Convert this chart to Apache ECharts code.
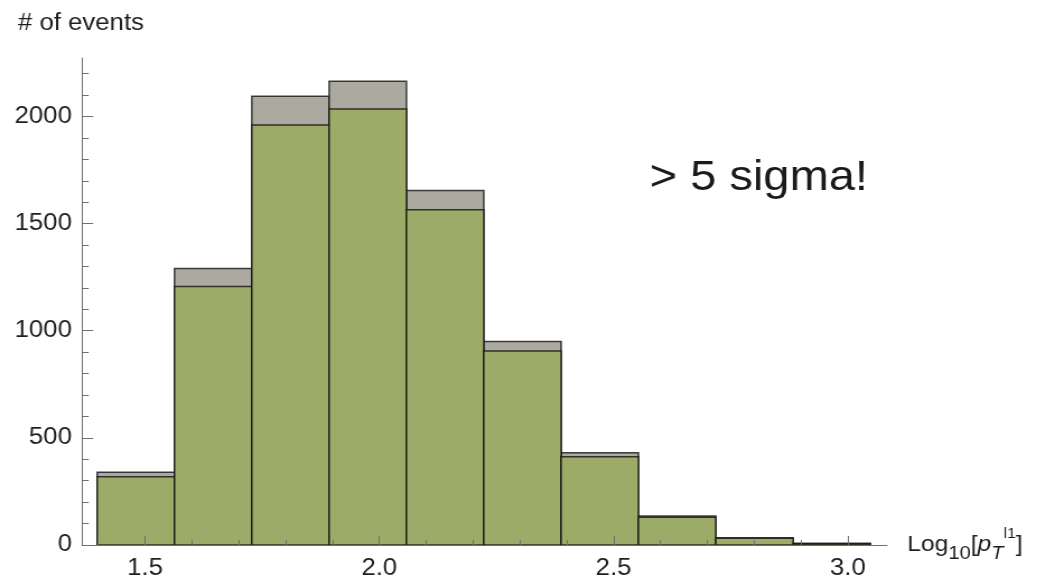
<!DOCTYPE html>
<html>
<head>
<meta charset="utf-8">
<script src="https://cdn.jsdelivr.net/npm/echarts@6/dist/echarts.min.js"></script>
<style>
  html, body { margin: 0; padding: 0; background: #fff; overflow: hidden; }
  /* the plot is laid out at 931px and widened to the full 1043px page */
  #chart { width: 931px; height: 584px; transform: scaleX(1.12); transform-origin: 0 0; }
</style>
</head>
<body>
<div id="chart"></div>
<script>
// Histogram of Log10[pT^l1]: bin edges and counts per bin
const binEdges = [1.398, 1.563, 1.728, 1.893, 2.058, 2.223, 2.388, 2.553, 2.718, 2.883, 3.048];
const totalCounts  = [340, 1290, 2095, 2165, 1655, 950, 430, 135, 34, 8];
const signalCounts = [318, 1206, 1960, 2035, 1565, 905, 412, 130, 31, 6];

// Axis ticks and labels
const xTickValues = [1.5, 2.0, 2.5, 3.0];
const xMinorTickValues = [1.4, 1.6, 1.7, 1.8, 1.9, 2.1, 2.2, 2.3, 2.4, 2.6, 2.7, 2.8, 2.9];
const yTickValues = [0, 500, 1000, 1500, 2000];
const yMinorTickValues = [100, 200, 300, 400, 600, 700, 800, 900, 1100, 1200, 1300, 1400,
                          1600, 1700, 1800, 1900, 2100, 2200];

const X_MIN = 1.3656, X_MAX = 3.0835;
const Y_MIN = 0, Y_MAX = 2273;

const FONT = '"Liberation Sans", Arial, sans-serif';
const AXIS_COLOR = '#6f6f6f';
const TEXT_COLOR = '#1e1e1e';

function histogramItem(fill) {
  return function (params, api) {
    const topLeft = api.coord([api.value(0), api.value(2)]);
    const bottomRight = api.coord([api.value(1), 0]);
    return {
      type: 'rect',
      shape: {
        x: topLeft[0],
        y: topLeft[1],
        width: bottomRight[0] - topLeft[0],
        height: bottomRight[1] - topLeft[1]
      },
      style: { fill: fill, stroke: 'rgba(15,15,15,0.78)', lineWidth: 1.5 }
    };
  };
}

function binData(counts) {
  return counts.map((v, i) => [binEdges[i], binEdges[i + 1], v]);
}

const chart = echarts.init(document.getElementById('chart'), null, { renderer: 'canvas' });

chart.setOption({
  animation: false,
  backgroundColor: '#ffffff',
  textStyle: { fontFamily: FONT },
  grid: { left: 73.2, right: 139, top: 58, bottom: 39, containLabel: false },
  xAxis: [
    {
      type: 'value', position: 'bottom', min: X_MIN, max: X_MAX, z: 10,
      axisLine: { onZero: false, lineStyle: { color: AXIS_COLOR, width: 1 } },
      axisTick: { inside: true, length: 9, customValues: xTickValues,
                  lineStyle: { color: AXIS_COLOR, width: 1 } },
      axisLabel: { customValues: xTickValues, margin: 12, fontSize: 23,
                   color: TEXT_COLOR, fontFamily: FONT,
                   formatter: v => v.toFixed(1) },
      splitLine: { show: false },
      name: '{a|Log}{sub|10}{a|[}{it|p}{itsub|T}{sup|l1}{a|]}',
      nameLocation: 'end',
      nameGap: 18,
      nameTextStyle: {
        fontFamily: FONT, color: TEXT_COLOR, align: 'left',
        rich: {
          a:     { fontSize: 22, lineHeight: 36, verticalAlign: 'middle', color: TEXT_COLOR, fontFamily: FONT },
          sub:   { fontSize: 18, lineHeight: 22, verticalAlign: 'bottom', color: TEXT_COLOR, fontFamily: FONT },
          it:    { fontSize: 22, lineHeight: 36, verticalAlign: 'middle', fontStyle: 'italic', color: TEXT_COLOR, fontFamily: FONT },
          itsub: { fontSize: 18, lineHeight: 22, verticalAlign: 'bottom', fontStyle: 'italic', color: TEXT_COLOR, fontFamily: FONT },
          sup:   { fontSize: 14, lineHeight: 12, verticalAlign: 'top', color: TEXT_COLOR, fontFamily: FONT }
        }
      }
    },
    {
      type: 'value', position: 'bottom', min: X_MIN, max: X_MAX, z: 10,
      axisLine: { show: false, onZero: false },
      axisTick: { inside: true, length: 5, customValues: xMinorTickValues,
                  lineStyle: { color: AXIS_COLOR, width: 1 } },
      axisLabel: { show: false },
      splitLine: { show: false }
    }
  ],
  yAxis: [
    {
      type: 'value', position: 'left', min: Y_MIN, max: Y_MAX, z: 10,
      axisLine: { show: true, onZero: false, lineStyle: { color: AXIS_COLOR, width: 1 } },
      axisTick: { show: true, inside: true, length: 10, customValues: yTickValues,
                  lineStyle: { color: AXIS_COLOR, width: 1 } },
      axisLabel: { customValues: yTickValues, margin: 9, fontSize: 23,
                   color: TEXT_COLOR, fontFamily: FONT,
                   formatter: v => String(v) },
      splitLine: { show: false }
    },
    {
      type: 'value', position: 'left', min: Y_MIN, max: Y_MAX, z: 10,
      axisLine: { show: false, onZero: false },
      axisTick: { show: true, inside: true, length: 6, customValues: yMinorTickValues,
                  lineStyle: { color: AXIS_COLOR, width: 1 } },
      axisLabel: { show: false },
      splitLine: { show: false }
    }
  ],
  graphic: [
    {
      type: 'text', left: 16, top: 12,
      style: { text: '# of events', fontSize: 23, fontFamily: FONT, fill: TEXT_COLOR }
    },
    {
      type: 'text', left: 580, top: 157,
      style: { text: '> 5 sigma!', fontSize: 42, fontFamily: FONT, fill: '#1a1a1a' }
    }
  ],
  series: [
    {
      name: 'total', type: 'custom', xAxisIndex: 0, yAxisIndex: 0,
      renderItem: histogramItem('#aca9a1'),
      encode: { x: [0, 1], y: 2 },
      data: binData(totalCounts), z: 2
    },
    {
      name: 'signal', type: 'custom', xAxisIndex: 0, yAxisIndex: 0,
      renderItem: histogramItem('#9cab67'),
      encode: { x: [0, 1], y: 2 },
      data: binData(signalCounts), z: 3
    }
  ]
});
</script>
</body>
</html>
